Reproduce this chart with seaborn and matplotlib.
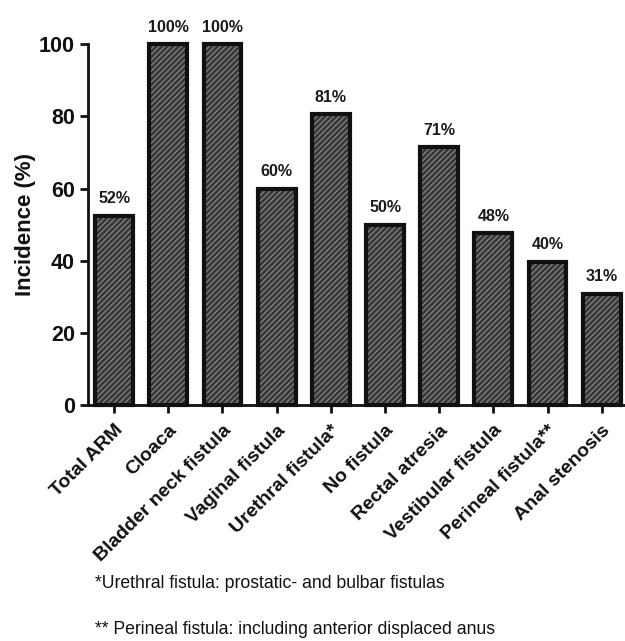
import matplotlib
matplotlib.use("Agg")
import matplotlib.pyplot as plt
import seaborn as sns
import pandas as pd

# data
categories = ["Total ARM", "Cloaca", "Bladder neck fistula", "Vaginal fistula",
              "Urethral fistula*", "No fistula", "Rectal atresia",
              "Vestibular fistula", "Perineal fistula**", "Anal stenosis"]
incidence = [52.4, 100, 100, 60, 80.6, 50, 71.4, 47.6, 39.7, 30.8]
bar_labels = ["52%", "100%", "100%", "60%", "81%", "50%", "71%", "48%", "40%", "31%"]
yticks = [0, 20, 40, 60, 80, 100]
footnotes = ["*Urethral fistula: prostatic- and bulbar fistulas",
             "** Perineal fistula: including anterior displaced anus"]

df = pd.DataFrame({"category": categories, "incidence": incidence})

sns.set_style("ticks")
plt.rcParams["font.family"] = ["Liberation Sans", "DejaVu Sans"]
plt.rcParams["hatch.linewidth"] = 0.8

fig = plt.figure(figsize=(6.25, 6.41), dpi=100)
ax = fig.add_axes([0.141, 0.368, 0.859, 0.563])

# hatched fill
sns.barplot(data=df, x="category", y="incidence", ax=ax, color="#383838",
            edgecolor="#8a8a8a", linewidth=0, hatch="//////", width=0.7,
            saturation=1)
# thick black outline on top
sns.barplot(data=df, x="category", y="incidence", ax=ax, fill=False,
            color="#111111", linewidth=3, width=0.7)

for p in ax.patches:
    p.set_clip_on(False)

for i, (v, lab) in enumerate(zip(incidence, bar_labels)):
    ax.annotate(lab, (i, v), xytext=(0, 7), textcoords="offset points",
                ha="center", va="bottom", fontsize=11.5, fontweight="bold",
                color="#1a1a1a", annotation_clip=False)

ax.set_ylim(0, 100)
ax.set_xlim(-0.48, len(categories) - 0.57)
ax.set_yticks(yticks)
ax.set_yticklabels([str(t) for t in yticks], fontsize=15.5, fontweight="bold",
                   color="#111111")
ax.set_xticks(range(len(categories)))
ax.set_xticklabels(categories, rotation=45, ha="right", rotation_mode="anchor",
                   fontsize=14, fontweight="bold", color="#111111")
ax.set_xlabel("")
ax.set_ylabel("Incidence (%)", fontsize=16, fontweight="bold", labelpad=2,
              color="#111111")
ax.tick_params(axis="both", width=2, length=6, color="#111111")
ax.tick_params(axis="x", pad=6)

sns.despine(ax=ax)
for s in ["left", "bottom"]:
    ax.spines[s].set_linewidth(2)
    ax.spines[s].set_color("#111111")

fig.text(0.152, 0.09, footnotes[0], fontsize=12.7, va="center", color="#111111")
fig.text(0.152, 0.018, footnotes[1], fontsize=12.7, va="center", color="#111111")

fig.savefig("out.png", dpi=100)
